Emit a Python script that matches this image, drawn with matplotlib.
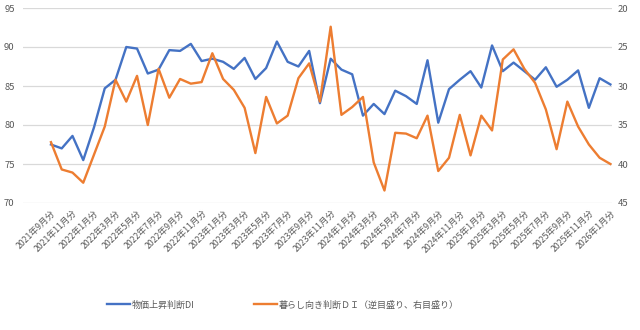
import matplotlib
matplotlib.use("Agg")
import matplotlib.pyplot as plt
from matplotlib.lines import Line2D

plt.rcParams['font.family'] = ['Noto Sans CJK JP', 'DejaVu Sans']

# monthly categories 2021-09 .. 2026-01
months = []
for y in range(2021, 2027):
    for m in range(1, 13):
        if (y == 2021 and m < 9) or (y == 2026 and m > 1):
            continue
        months.append(f"{y}年{m}月分")

price_di = [77.5, 77.0, 78.6, 75.5, 79.7, 84.7, 85.8, 90.0, 89.8, 86.6,
            87.1, 89.6, 89.5, 90.4, 88.2, 88.5, 88.1, 87.2, 88.6, 85.9,
            87.3, 90.7, 88.1, 87.5, 89.5, 82.8, 88.5, 87.1, 86.5, 81.2,
            82.7, 81.4, 84.4, 83.7, 82.7, 88.3, 80.3, 84.6, 85.8, 86.9,
            84.8, 90.2, 86.9, 88.0, 86.9, 85.8, 87.4, 84.9, 85.8, 87.0,
            82.2, 86.0, 85.2]

living_di = [37.2, 40.7, 41.1, 42.4, 38.8, 35.2, 29.2, 32.0, 28.7, 35.0,
             27.8, 31.5, 29.1, 29.7, 29.5, 25.8, 29.1, 30.5, 32.8, 38.6,
             31.4, 34.8, 33.8, 29.0, 27.1, 32.0, 22.4, 33.7, 32.7, 31.4,
             39.8, 43.4, 36.0, 36.1, 36.7, 33.8, 40.9, 39.2, 33.7, 38.9,
             33.8, 35.7, 26.6, 25.3, 27.8, 29.6, 33.0, 38.1, 32.0, 35.2,
             37.5, 39.2, 40.0]

left_ticks = [70, 75, 80, 85, 90, 95]
right_ticks = [20, 25, 30, 35, 40, 45]

label_price = "物価上昇判断DI"
label_living = "暮らし向き判断ＤＩ（逆目盛り、右目盛り）"

blue = "#4472C4"
orange = "#ED7D31"
txt = "#595959"
grid = "#D9D9D9"

fig = plt.figure(figsize=(6.4, 3.3), dpi=100)
ax = fig.add_axes([23/640, 1-203/330, (612-23)/640, (203-8)/330])
ax2 = ax.twinx()

x = list(range(len(months)))
ax.plot(x, price_di, color=blue, lw=1.7, zorder=3)
ax2.plot(x, living_di, color=orange, lw=1.7, zorder=3)

ax.set_ylim(70, 95)
ax.set_yticks(left_ticks)
ax2.set_ylim(45, 20)
ax2.set_yticks(right_ticks)
ax.set_xlim(-2.6, 52.15)
ax.set_xticks(x[::2])
ax.set_xticklabels(months[::2], rotation=45, ha='right', va='top',
                   rotation_mode='anchor', fontsize=6.3, color=txt)
ax.grid(axis='y', color=grid, lw=0.9)
ax.set_axisbelow(True)
for a in (ax, ax2):
    for s in a.spines.values():
        s.set_visible(False)
ax.tick_params(axis='both', length=0)
ax.tick_params(axis='y', labelsize=6.8, labelcolor=txt, pad=6)
ax.tick_params(axis='x', pad=4)
ax2.tick_params(axis='y', length=0, labelsize=6.8, labelcolor=txt, pad=4)
ax2.set_zorder(ax.get_zorder() + 1)
ax2.patch.set_visible(False)

handles = [Line2D([], [], color=blue, lw=1.7),
           Line2D([], [], color=orange, lw=1.7)]
fig.legend(handles, [label_price, label_living], loc='center',
           bbox_to_anchor=(0.442, 1-305/330), ncol=2, frameon=False,
           fontsize=6.5, labelcolor=txt, handlelength=2.6,
           handletextpad=0.2, columnspacing=6.5)

fig.savefig("out.png", dpi=100)
